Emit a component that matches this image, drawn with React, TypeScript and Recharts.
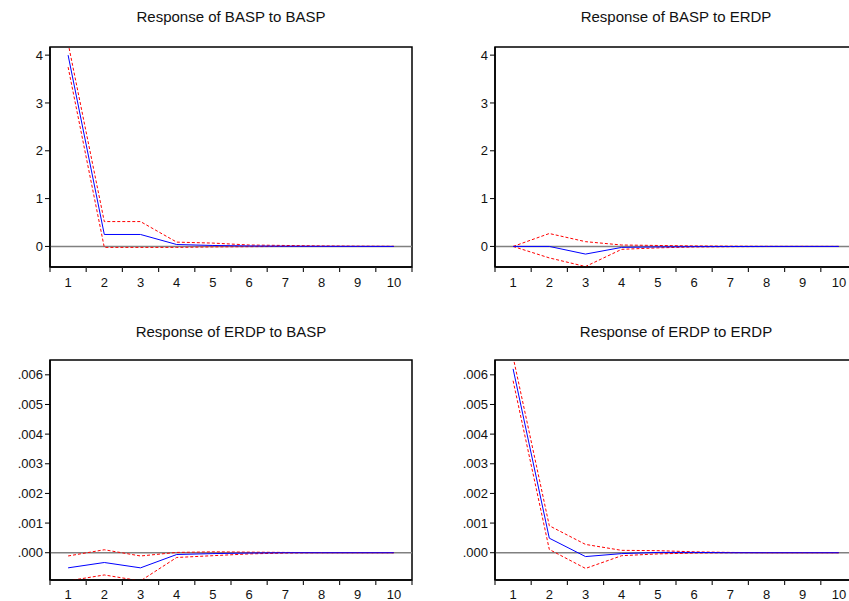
import React from "react";
import {
  LineChart,
  Line,
  XAxis,
  YAxis,
  ReferenceLine,
  ReferenceArea,
} from "recharts";

// periods (horizon) and tick positions (EViews puts marks between periods)
const periods = [1, 2, 3, 4, 5, 6, 7, 8, 9, 10];
const tickMarks = [0.5, ...periods.map((p) => p + 0.5)];

const baspTicks = [0, 1, 2, 3, 4];
const erdpTicks = [0, 0.001, 0.002, 0.003, 0.004, 0.005, 0.006];

// Response of BASP to BASP
const baspBaspResp = [4.0, 0.25, 0.25, 0.04, 0.02, 0.01, 0.004, 0.002, 0.001, 0];
const baspBaspUpper = [4.25, 0.52, 0.52, 0.09, 0.07, 0.03, 0.02, 0.01, 0.005, 0.002];
const baspBaspLower = [3.75, -0.02, -0.02, -0.02, -0.01, -0.005, 0, 0, 0, 0];

// Response of BASP to ERDP
const baspErdpResp = [0, 0, -0.16, -0.02, -0.01, -0.004, -0.002, 0, 0, 0];
const baspErdpUpper = [0, 0.27, 0.1, 0.03, 0.02, 0.01, 0.005, 0.002, 0.001, 0];
const baspErdpLower = [0, -0.24, -0.42, -0.06, -0.03, -0.01, -0.005, -0.002, 0, 0];

// Response of ERDP to BASP
const erdpBaspResp = [-0.00051, -0.00033, -0.00051, -0.00006, -0.00003, -0.00001, 0, 0, 0, 0];
const erdpBaspUpper = [-0.00011, 0.0001, -0.00011, 0.00001, 0.00003, 0.00002, 0.00001, 0, 0, 0];
const erdpBaspLower = [-0.00095, -0.00075, -0.00095, -0.00016, -0.0001, -0.00004, -0.00001, 0, 0, 0];

// Response of ERDP to ERDP
const erdpErdpResp = [0.0062, 0.00049, -0.00013, -0.00003, 0.00001, 0.00001, 0, 0, 0, 0];
const erdpErdpUpper = [0.0066, 0.00091, 0.00028, 0.00008, 0.00007, 0.00003, 0.00001, 0, 0, 0];
const erdpErdpLower = [0.0058, 0.00011, -0.00053, -0.0001, -0.00004, -0.00001, 0, 0, 0, 0];

const FONT = "'Liberation Sans', Arial, sans-serif";
const tickStyle = { fill: "#111", fontSize: 13, fontFamily: FONT };

const fmtBasp = (v: number) => String(v);
const fmtErdp = (v: number) => v.toFixed(3).replace(/^0/, "");

interface PanelProps {
  title: string;
  left: number;
  top: number;
  width: number;
  height: number;
  marginTop: number;
  marginRight: number;
  yAxisWidth: number;
  xAxisHeight: number;
  xTickMargin: number;
  titleTop: number;
  domain: [number, number];
  ticks: number[];
  fmt: (v: number) => string;
  resp: number[];
  upper: number[];
  lower: number[];
}

const Panel: React.FC<PanelProps> = ({
  title,
  left,
  top,
  width,
  height,
  marginTop,
  marginRight,
  yAxisWidth,
  xAxisHeight,
  xTickMargin,
  titleTop,
  domain,
  ticks,
  fmt,
  resp,
  upper,
  lower,
}) => {
  const data = periods.map((p, i) => ({
    period: p,
    resp: resp[i],
    upper: upper[i],
    lower: lower[i],
  }));
  const plotWidth = width - yAxisWidth - marginRight;
  const halfBand = plotWidth / (periods.length * 2);

  // tick mark sits between periods, the label sits in the middle of the band
  const PeriodTick = (props: any) => {
    const { x, y, payload } = props;
    const label = payload.value + 0.5;
    if (label > periods[periods.length - 1]) return <g />;
    return (
      <text
        x={x + halfBand}
        y={y}
        dy="0.71em"
        textAnchor="middle"
        fill={tickStyle.fill}
        fontSize={tickStyle.fontSize}
        fontFamily={FONT}
      >
        {label}
      </text>
    );
  };

  return (
    <div style={{ position: "absolute", left, top, width, height }}>
      <div
        style={{
          position: "absolute",
          left: yAxisWidth,
          width: plotWidth,
          top: titleTop,
          textAlign: "center",
          fontFamily: FONT,
          fontSize: 15,
          lineHeight: "18px",
          color: "#111",
        }}
      >
        {title}
      </div>
      <LineChart
        width={width}
        height={height}
        data={data}
        margin={{ top: marginTop, right: marginRight, bottom: 0, left: 0 }}
      >
        <XAxis
          type="number"
          dataKey="period"
          domain={[0.5, 10.5]}
          allowDataOverflow
          ticks={tickMarks}
          tick={PeriodTick}
          tickSize={5}
          tickMargin={xTickMargin}
          tickLine={{ stroke: "#222", strokeWidth: 1.2 }}
          axisLine={{ stroke: "#000", strokeWidth: 1.5 }}
          height={xAxisHeight}
          interval={0}
        />
        <YAxis
          type="number"
          domain={domain}
          allowDataOverflow
          ticks={ticks}
          tickFormatter={fmt}
          tick={tickStyle}
          tickSize={5}
          tickMargin={2}
          tickLine={{ stroke: "#000" }}
          axisLine={{ stroke: "#000", strokeWidth: 1.5 }}
          width={yAxisWidth}
          interval={0}
        />
        <ReferenceArea
          x1={0.5}
          x2={10.5}
          y1={domain[0]}
          y2={domain[1]}
          fill="none"
          stroke="#000"
          strokeWidth={1.5}
          fillOpacity={0}
        />
        <ReferenceLine y={0} stroke="#808080" strokeWidth={1.5} />
        <Line
          type="linear"
          dataKey="upper"
          stroke="#ff0000"
          strokeWidth={1}
          strokeDasharray="3 2"
          dot={false}
          isAnimationActive={false}
        />
        <Line
          type="linear"
          dataKey="lower"
          stroke="#ff0000"
          strokeWidth={1}
          strokeDasharray="3 2"
          dot={false}
          isAnimationActive={false}
        />
        <Line
          type="linear"
          dataKey="resp"
          stroke="#0000ff"
          strokeWidth={1}
          dot={false}
          isAnimationActive={false}
        />
      </LineChart>
    </div>
  );
};

export default function App() {
  return (
    <div
      style={{
        position: "fixed",
        left: 0,
        top: 0,
        width: 849,
        height: 601,
        overflow: "hidden",
        background: "#fff",
      }}
    >
      <Panel
        title="Response of BASP to BASP"
        left={0}
        top={0}
        width={430}
        height={300}
        marginTop={47}
        marginRight={18}
        yAxisWidth={50}
        xAxisHeight={33}
        xTickMargin={6}
        titleTop={8}
        domain={[-0.43, 4.17]}
        ticks={baspTicks}
        fmt={fmtBasp}
        resp={baspBaspResp}
        upper={baspBaspUpper}
        lower={baspBaspLower}
      />
      <Panel
        title="Response of BASP to ERDP"
        left={420}
        top={0}
        width={450}
        height={300}
        marginTop={47}
        marginRight={13}
        yAxisWidth={75}
        xAxisHeight={33}
        xTickMargin={6}
        titleTop={8}
        domain={[-0.43, 4.17]}
        ticks={baspTicks}
        fmt={fmtBasp}
        resp={baspErdpResp}
        upper={baspErdpUpper}
        lower={baspErdpLower}
      />
      <Panel
        title="Response of ERDP to BASP"
        left={0}
        top={300}
        width={430}
        height={301}
        marginTop={60}
        marginRight={18}
        yAxisWidth={50}
        xAxisHeight={21}
        xTickMargin={5}
        titleTop={23}
        domain={[-0.00092, 0.0065]}
        ticks={erdpTicks}
        fmt={fmtErdp}
        resp={erdpBaspResp}
        upper={erdpBaspUpper}
        lower={erdpBaspLower}
      />
      <Panel
        title="Response of ERDP to ERDP"
        left={420}
        top={300}
        width={450}
        height={301}
        marginTop={60}
        marginRight={13}
        yAxisWidth={75}
        xAxisHeight={21}
        xTickMargin={5}
        titleTop={23}
        domain={[-0.00092, 0.0065]}
        ticks={erdpTicks}
        fmt={fmtErdp}
        resp={erdpErdpResp}
        upper={erdpErdpUpper}
        lower={erdpErdpLower}
      />
    </div>
  );
}
